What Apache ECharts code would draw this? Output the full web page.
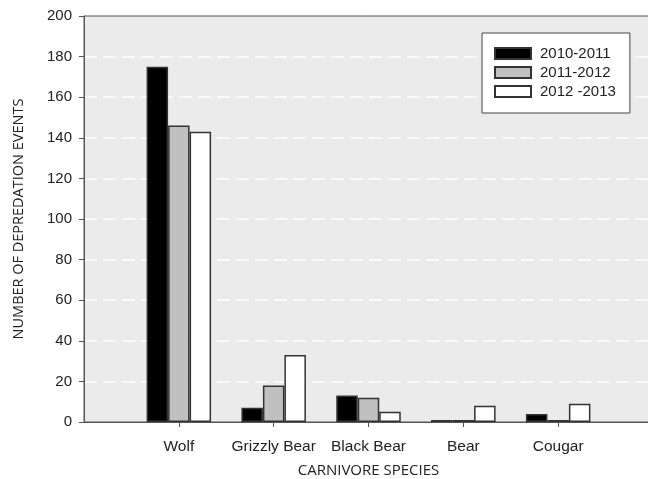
<!DOCTYPE html>
<html>
<head>
<meta charset="utf-8">
<script src="https://cdn.jsdelivr.net/npm/echarts@6/dist/echarts.min.js"></script>
<style>
html,body{margin:0;padding:0;background:#fff;}
#c{width:648px;height:479px;}
</style>
</head>
<body>
<div id="c"></div>
<script>
var categories = ['Wolf', 'Grizzly Bear', 'Black Bear', 'Bear', 'Cougar'];
var seriesNames = ['2010-2011', '2011-2012', '2012 -2013'];
var s2010 = [175, 7, 13, 1, 4];
var s2011 = [146, 18, 12, 1, 1];
var s2012 = [143, 33, 5, 8, 9];
var yTicks = [0, 20, 40, 60, 80, 100, 120, 140, 160, 180, 200];

function pad(arr) { return ['-'].concat(arr).concat(['-']); }
var axisCats = [''].concat(categories).concat(['']);
var colors = ['#000000', '#c0c0c0', '#ffffff'];
var values = [s2010, s2011, s2012];

var chart = echarts.init(document.getElementById('c'));
var showInner = function (i) { return i > 0 && i < axisCats.length - 1; };

chart.setOption({
  animation: false,
  backgroundColor: '#ffffff',
  grid: {
    left: 84, right: -5, top: 16, bottom: 57,
    containLabel: false, outerBoundsMode: 'none',
    show: true, backgroundColor: '#ebebeb', borderColor: '#555', borderWidth: 1
  },
  legend: {
    orient: 'vertical',
    left: 482, top: 33,
    backgroundColor: '#ffffff',
    borderColor: '#444', borderWidth: 1,
    padding: [12, 14, 13, 12],
    itemGap: 2,
    itemWidth: 36, itemHeight: 11,
    icon: 'rect',
    textStyle: { fontFamily: 'Liberation Sans', fontSize: 15, color: '#222', lineHeight: 17, padding: [0, 0, 0, 4] },
    data: seriesNames
  },
  xAxis: {
    type: 'category',
    data: axisCats,
    boundaryGap: false,
    name: 'CARNIVORE SPECIES',
    nameLocation: 'middle',
    nameGap: 41,
    nameTextStyle: { fontFamily: 'Open Sans', fontSize: 15, color: '#222' },
    axisLine: { lineStyle: { color: '#555', width: 1 } },
    axisTick: { show: true, length: 5, interval: function (i) { return showInner(i); }, lineStyle: { color: '#555' } },
    axisLabel: { interval: function (i) { return showInner(i); }, fontFamily: 'Liberation Sans', fontSize: 15.5, color: '#222', margin: 17 },
    splitLine: { show: false }
  },
  yAxis: {
    type: 'value',
    min: 0, max: 200, interval: 20,
    name: 'NUMBER OF DEPREDATION EVENTS',
    nameLocation: 'middle',
    nameRotate: 90,
    nameGap: 58,
    nameTextStyle: { fontFamily: 'Open Sans', fontSize: 14.5, color: '#222' },
    axisLine: { show: true, lineStyle: { color: '#555', width: 1 } },
    axisTick: { show: true, length: 5, lineStyle: { color: '#555' } },
    axisLabel: {
      fontFamily: 'Liberation Sans', fontSize: 15, color: '#222', margin: 12,
      formatter: function (v) { return yTicks.indexOf(v) >= 0 ? String(v) : ''; }
    },
    splitLine: { show: true, showMinLine: false, showMaxLine: false, lineStyle: { color: '#ffffff', width: 1.5, type: [13, 6] } }
  },
  series: seriesNames.map(function (n, k) {
    return {
      name: n,
      type: 'bar',
      data: pad(values[k]),
      barWidth: 21.5,
      barGap: '0%',
      itemStyle: { color: colors[k], borderColor: '#333', borderWidth: 1.5 }
    };
  })
});
</script>
</body>
</html>
